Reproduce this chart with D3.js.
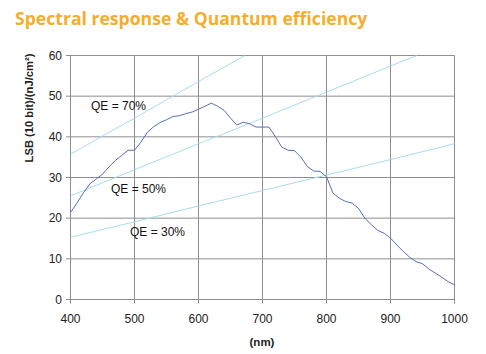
<!DOCTYPE html>
<html><head><meta charset="utf-8">
<script src="https://cdn.jsdelivr.net/npm/d3@7"></script>
<style>body{margin:0;background:#fff}svg{display:block}</style>
</head><body>
<svg id="c" width="486" height="354"></svg>
<script>
const wavelength = [400,410,420,430,440,450,460,470,480,490,500,510,520,530,540,550,560,570,580,590,600,610,620,630,640,650,660,670,680,690,700,710,720,730,740,750,760,770,780,790,800,810,820,830,840,850,860,870,880,890,900,910,920,930,940,950,960,970,980,990,1000];
const response = [21.4,23.7,26.2,28.4,29.6,30.8,32.6,34.2,35.4,36.7,36.7,38.7,41.1,42.5,43.5,44.2,45.0,45.2,45.7,46.1,46.8,47.5,48.3,47.5,46.5,44.6,42.9,43.6,43.2,42.4,42.4,42.4,40.1,37.5,36.7,36.6,35.0,32.7,31.6,31.5,30.2,26.2,24.9,24.1,23.7,22.4,20.0,18.4,17.0,16.3,15.1,13.4,11.8,10.4,9.3,8.8,7.5,6.5,5.5,4.4,3.6];
const qe70X = [400,450,500,550,600,650,672];
const qe70Y = [35.7,40.2,44.6,49.1,53.6,58.0,60];
const qe50X = [400,450,500,550,600,650,700,750,800,850,900,941];
const qe50Y = [25.5,28.7,31.9,35.1,38.3,41.4,44.6,47.8,51.0,54.2,57.4,60];
const qe30X = [400,500,600,700,800,900,1000];
const qe30Y = [15.3,19.1,23.0,26.8,30.6,34.4,38.3];
const xTicks = [400,500,600,700,800,900,1000];
const yTicks = [0,10,20,30,40,50,60];
const qeLabels = ["QE = 70%","QE = 50%","QE = 30%"];

const svg = d3.select("#c");
const x = d3.scaleLinear().domain([400,1000]).range([70.5,454.5]);
const y = d3.scaleLinear().domain([0,60]).range([299.5,55.5]);
const grid = "#8e8e8e";

svg.append("text").attr("x",15).attr("y",25)
  .attr("font-family","Open Sans").attr("font-weight","bold").attr("font-size",17.6)
  .attr("fill","#f6ad2b").text("Spectral response & Quantum efficiency");

const g = svg.append("g");
g.selectAll(".hg").data(yTicks).join("line")
  .attr("x1",66).attr("x2",454.5).attr("y1",d=>y(d)).attr("y2",d=>y(d))
  .attr("stroke",grid).attr("stroke-width",1);
g.selectAll(".vg").data(xTicks).join("line")
  .attr("x1",d=>x(d)).attr("x2",d=>x(d)).attr("y1",55.5).attr("y2",303.5)
  .attr("stroke",grid).attr("stroke-width",1);

g.selectAll(".yl").data(yTicks).join("text")
  .attr("x",62).attr("y",d=>y(d)+4).attr("text-anchor","end")
  .attr("font-family","Liberation Sans").attr("font-size",12).attr("fill","#222").text(d=>d);
g.selectAll(".xl").data(xTicks).join("text")
  .attr("x",d=>x(d)).attr("y",323).attr("text-anchor","middle")
  .attr("font-family","Liberation Sans").attr("font-size",12).attr("fill","#222").text(d=>d);
svg.append("text").attr("x",262).attr("y",346).attr("text-anchor","middle")
  .attr("font-family","Liberation Sans").attr("font-weight","bold").attr("font-size",11.5).attr("fill","#222").text("(nm)");
svg.append("text").attr("transform","translate(33,108) rotate(-90)").attr("text-anchor","middle")
  .attr("font-family","Liberation Sans").attr("font-weight","bold").attr("font-size",11.2).attr("fill","#222")
  .text("LSB (10 bit)/(nJ/cm²)");

const line = d3.line().x(d=>x(d[0])).y(d=>y(d[1]));
const qeSets = [[qe70X,qe70Y],[qe50X,qe50Y],[qe30X,qe30Y]];
qeSets.forEach(([xs,ys])=>{
  g.append("path").attr("d",line(xs.map((v,i)=>[v,ys[i]])))
   .attr("fill","none").attr("stroke","#a9dde9").attr("stroke-width",1);
});
g.append("path").attr("d",line(wavelength.map((v,i)=>[v,response[i]])))
  .attr("fill","none").attr("stroke","#5d6cb6").attr("stroke-width",1);

const labPos = [[91,110],[111,193],[130,236]];
g.selectAll(".ql").data(qeLabels).join("text")
  .attr("x",(d,i)=>labPos[i][0]).attr("y",(d,i)=>labPos[i][1])
  .attr("font-family","Liberation Sans").attr("font-size",12).attr("fill","#111").text(d=>d);
</script>
</body></html>
